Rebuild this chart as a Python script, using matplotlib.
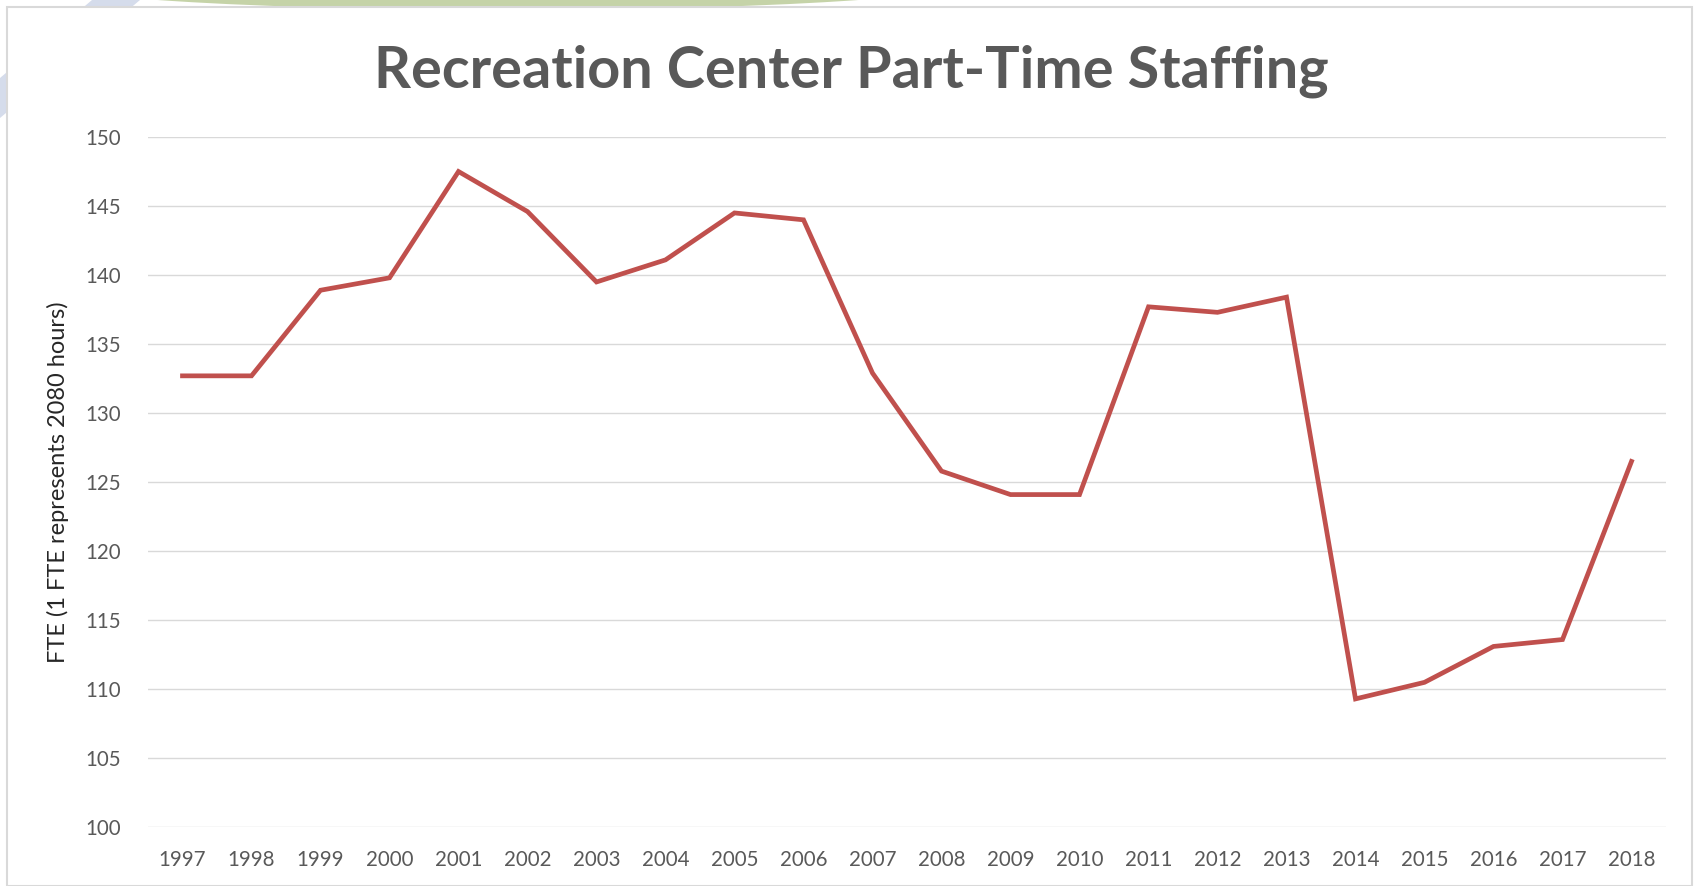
import matplotlib
matplotlib.use("Agg")
import matplotlib.pyplot as plt
from matplotlib.patches import Rectangle, Ellipse, Polygon

years = [str(y) for y in range(1997, 2019)]
fte = [132.7, 132.7, 138.9, 139.8, 147.5, 144.6, 139.5, 141.1, 144.5, 144.0,
       132.9, 125.8, 124.1, 124.1, 137.7, 137.3, 138.4, 109.3, 110.5, 113.1,
       113.6, 126.5]
yticks = [100, 105, 110, 115, 120, 125, 130, 135, 140, 145, 150]

W, H = 1694, 886
fig = plt.figure(figsize=(W / 100, H / 100), dpi=100)
fig.patch.set_facecolor("white")

def px(x, y):
    return (x / W, 1 - y / H)

# background decorations (slide remnants)
band = Polygon([px(92, 0), px(140, 0), px(0, 118), px(0, 78)], closed=True,
               transform=fig.transFigure, facecolor="#D5DCEB", edgecolor="none", zorder=0)
fig.patches.append(band)
ell = Ellipse(px(508, -20), width=940 / W, height=60 / H, transform=fig.transFigure,
              facecolor="#C5D3A8", edgecolor="none", zorder=0)
fig.patches.append(ell)
# chart frame
frame = Rectangle(px(7, 886), (1692 - 7) / W, (886 - 7) / H, transform=fig.transFigure,
                  facecolor="white", edgecolor="#D9D9D9", linewidth=1.5, zorder=1)
fig.patches.append(frame)

ax = fig.add_axes([148 / W, 1 - 827.3 / H, (1666 - 148) / W, (827.3 - 137) / H])
ax.set_zorder(2)
ax.patch.set_alpha(0)
x = list(range(len(years)))
ax.plot(x, fte, color="#C0504D", linewidth=3.4, solid_joinstyle="miter", zorder=3)

ax.set_xlim(-0.5, len(years) - 0.5)
ax.set_ylim(100, 150)
ax.set_yticks(yticks)
ax.set_xticks(x)
ax.set_xticklabels(years)
ax.grid(axis="y", color="#D9D9D9", linewidth=1.0)
ax.set_axisbelow(True)
for s in ax.spines.values():
    s.set_visible(False)
ax.tick_params(axis="both", length=0, labelsize=14.8, labelcolor="#595959")
ax.tick_params(axis="y", pad=19.5)
ax.tick_params(axis="x", pad=16.5)
for lab in ax.get_xticklabels() + ax.get_yticklabels():
    lab.set_fontfamily("Lato")

ax.set_ylabel("FTE (1 FTE represents 2080 hours)", fontsize=17, color="#262626",
              family="Lato", labelpad=12)

fig.text(851 / W, 1 - 88 / H, "Recreation Center Part-Time Staffing", ha="center",
         va="baseline", fontsize=41.5, fontweight="bold", color="#595959", family="Lato")

fig.savefig("out.png", dpi=100)
